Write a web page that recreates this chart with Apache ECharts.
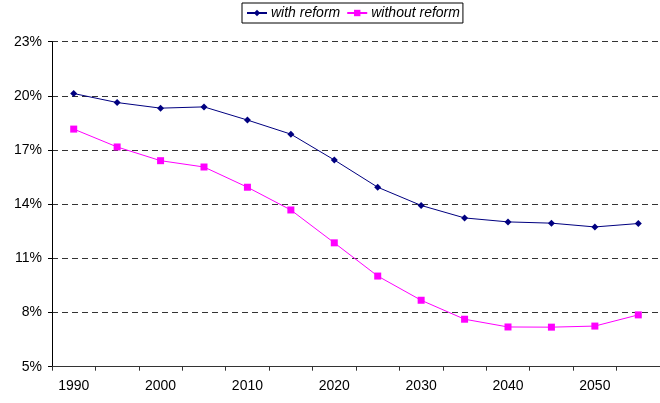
<!DOCTYPE html>
<html>
<head>
<meta charset="utf-8">
<script src="https://cdn.jsdelivr.net/npm/echarts@6/dist/echarts.min.js"></script>
<style>
  html, body { margin: 0; padding: 0; background: #fff; }
  #chart { width: 660px; height: 403px; }
</style>
</head>
<body>
<div id="chart"></div>
<script>
// Years shown on the category axis (one category per 5-year step)
const years = ['1990', '1995', '2000', '2005', '2010', '2015', '2020',
               '2025', '2030', '2035', '2040', '2045', '2050', '2055'];

// Share (in %) for each scenario
const withReform = [20.13, 19.63, 19.32, 19.39, 18.66, 17.88, 16.45,
                    14.94, 13.93, 13.24, 13.02, 12.95, 12.74, 12.93];
const withoutReform = [18.16, 17.17, 16.41, 16.06, 14.94, 13.68, 11.86,
                       10.02, 8.68, 7.63, 7.20, 7.19, 7.25, 7.87];

// Value-axis range and step (labels 5%, 8%, ... 23%)
const yMin = 5, yMax = 23, yStep = 3;

const font = 'Liberation Sans, Arial, sans-serif';
const chart = echarts.init(document.getElementById('chart'), null, { renderer: 'canvas' });

chart.setOption({
  backgroundColor: '#fff',
  animation: false,
  legend: {
    left: 242,
    top: 3,
    padding: [3, 3, 3, 4],
    itemGap: 6,
    itemWidth: 20,
    itemHeight: 8,
    borderColor: '#000',
    borderWidth: 1,
    textStyle: { fontFamily: font, fontSize: 14, fontStyle: 'italic', color: '#000', padding: [0, 0, 0, -1] },
    data: ['with reform', 'without reform']
  },
  grid: { left: 52, top: 41.7, width: 610, height: 325 },
  xAxis: {
    type: 'category',
    data: years,
    boundaryGap: true,
    axisLine: { lineStyle: { color: '#333', width: 1 } },
    axisTick: { show: true, interval: 0, length: 4, lineStyle: { color: '#333' } },
    axisLabel: { interval: 1, margin: 12, fontFamily: font, fontSize: 14, color: '#000' },
    splitLine: { show: false }
  },
  yAxis: {
    type: 'value',
    min: yMin,
    max: yMax,
    interval: yStep,
    axisLine: { show: true, lineStyle: { color: '#000', width: 1 } },
    axisTick: { show: true, length: 4, lineStyle: { color: '#000' } },
    axisLabel: { margin: 10, fontFamily: font, fontSize: 14, color: '#000', formatter: v => v + '%' },
    splitLine: { show: true, lineStyle: { color: '#333', type: [6, 4], width: 1 } }
  },
  series: [
    {
      name: 'with reform',
      type: 'line',
      data: withReform,
      symbol: 'diamond',
      symbolSize: 7,
      color: '#000080',
      lineStyle: { width: 1, color: '#000080' },
      itemStyle: { color: '#000080' }
    },
    {
      name: 'without reform',
      type: 'line',
      data: withoutReform,
      symbol: 'rect',
      symbolSize: 7,
      color: '#ff00ff',
      lineStyle: { width: 1, color: '#ff00ff' },
      itemStyle: { color: '#ff00ff' }
    }
  ]
});
</script>
</body>
</html>
